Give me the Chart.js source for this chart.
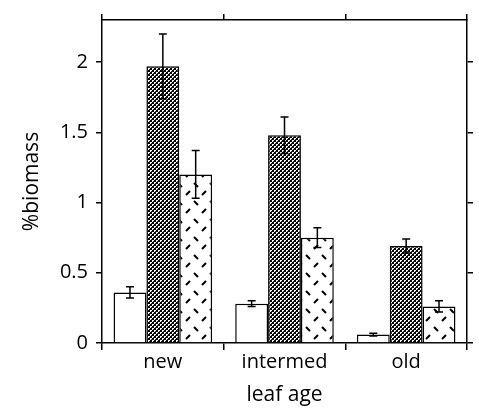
<!DOCTYPE html>
<html lang="en">
<head>
  <meta charset="UTF-8">
  <title>%biomass by leaf age</title>
  <script src="https://cdn.jsdelivr.net/npm/chart.js"></script>
  <style>
    html, body { margin: 0; padding: 0; background: #fff; }
    #wrap { width: 479px; height: 408px; }
  </style>
</head>
<body>
  <div id="wrap"><canvas id="chart" width="479" height="408"></canvas></div>

  <script>
    // data
    const categories = ['new', 'intermed', 'old'];
    const whiteVals = [0.36, 0.28, 0.06];
    const whiteErr = [0.04, 0.02, 0.01];
    const darkVals = [1.97, 1.48, 0.69];
    const darkErr = [0.23, 0.13, 0.05];
    const dashVals = [1.20, 0.75, 0.26];
    const dashErr = [0.17, 0.07, 0.04];
    const yTicks = [0, 0.5, 1, 1.5, 2];

    const font = "'Open Sans', 'DejaVu Sans', sans-serif";

    // dense checker fill for the dark bars
    function checkerPattern() {
      const c = document.createElement('canvas');
      c.width = 4; c.height = 4;
      const g = c.getContext('2d');
      g.fillStyle = '#000';
      g.fillRect(0, 0, 4, 4);
      g.fillStyle = '#fff';
      g.fillRect(0, 0, 2, 2);
      g.fillRect(2, 2, 2, 2);
      g.fillStyle = '#333';
      g.fillRect(1, 1, 1, 1);
      g.fillRect(3, 3, 1, 1);
      return g.createPattern(c, 'repeat');
    }

    // white fill with short diagonal dashes, "\" and "/" alternating
    function dashPattern() {
      const c = document.createElement('canvas');
      c.width = 16; c.height = 18;
      const g = c.getContext('2d');
      g.fillStyle = '#fff';
      g.fillRect(0, 0, 16, 18);
      g.strokeStyle = '#000';
      g.lineWidth = 2;
      g.beginPath();
      g.moveTo(2, 3); g.lineTo(6, 7);
      g.moveTo(14, 11); g.lineTo(10, 15);
      g.stroke();
      return g.createPattern(c, 'repeat');
    }

    const errorBars = {
      id: 'errorBars',
      afterDatasetsDraw(chart) {
        const ctx = chart.ctx;
        const y = chart.scales.y;
        const errs = [whiteErr, darkErr, dashErr];
        ctx.save();
        ctx.strokeStyle = '#000';
        ctx.lineWidth = 1.5;
        chart.data.datasets.forEach((ds, i) => {
          const meta = chart.getDatasetMeta(i);
          meta.data.forEach((bar, j) => {
            const v = ds.data[j];
            const e = errs[i][j];
            const top = y.getPixelForValue(v + e);
            const bot = y.getPixelForValue(v - e);
            const x = bar.x;
            ctx.beginPath();
            ctx.moveTo(x, top); ctx.lineTo(x, bot);
            ctx.moveTo(x - 4, top); ctx.lineTo(x + 4, top);
            ctx.moveTo(x - 4, bot); ctx.lineTo(x + 4, bot);
            ctx.stroke();
          });
        });
        ctx.restore();
      }
    };

    const ctx = document.getElementById('chart').getContext('2d');
    const barStyle = { borderColor: '#000', borderWidth: 1.5, barPercentage: 1, categoryPercentage: 0.81 };

    new Chart(ctx, {
      type: 'bar',
      data: {
        labels: categories,
        datasets: [
          Object.assign({ data: whiteVals, backgroundColor: '#fff' }, barStyle),
          Object.assign({ data: darkVals, backgroundColor: checkerPattern() }, barStyle),
          Object.assign({ data: dashVals, backgroundColor: dashPattern() }, barStyle)
        ]
      },
      options: {
        responsive: false,
        animation: false,
        layout: { padding: 0 },
        plugins: { legend: { display: false }, tooltip: { enabled: false } },
        scales: {
          x: {
            position: 'bottom',
            grid: { drawOnChartArea: false, offset: true, tickLength: 7, color: '#000', lineWidth: 1.5 },
            border: { color: '#000', width: 1.5 },
            ticks: { color: '#000', font: { family: font, size: 20 }, padding: 0 },
            title: { display: true, text: 'leaf age', color: '#000', font: { family: font, size: 21 }, padding: { top: 0, bottom: 0 } },
            afterFit(s) { s.height = 65; }
          },
          xTop: {
            position: 'top',
            type: 'category',
            labels: categories,
            offset: true,
            grid: { drawOnChartArea: false, offset: true, tickLength: 6, color: '#000', lineWidth: 1.5 },
            border: { color: '#000', width: 1.5 },
            ticks: { display: false },
            afterFit(s) { s.height = 16; }
          },
          y: {
            position: 'left',
            min: 0,
            max: 2.3,
            afterBuildTicks(s) { s.ticks = yTicks.map(v => ({ value: v })); },
            grid: { drawOnChartArea: false, tickLength: 6, color: '#000', lineWidth: 1.5 },
            border: { color: '#000', width: 1.5 },
            ticks: { color: '#000', font: { family: font, size: 20 }, padding: 8, callback: v => String(v) },
            title: { display: true, text: '%biomass', color: '#000', font: { family: font, size: 21 }, padding: { top: 19, bottom: 0 } },
            afterFit(s) { s.width = 102; }
          },
          yRight: {
            position: 'right',
            min: 0,
            max: 2.3,
            afterBuildTicks(s) { s.ticks = yTicks.map(v => ({ value: v })); },
            grid: { drawOnChartArea: false, tickLength: 6, color: '#000', lineWidth: 1.5 },
            border: { color: '#000', width: 1.5 },
            ticks: { display: false },
            afterFit(s) { s.width = 12; }
          }
        }
      },
      plugins: [errorBars]
    });
  </script>
</body>
</html>
